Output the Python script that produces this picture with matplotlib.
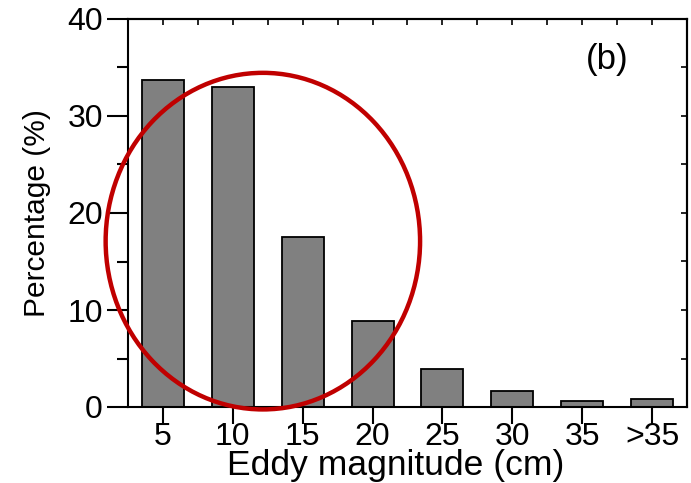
import matplotlib
matplotlib.use("Agg")
import matplotlib.pyplot as plt
from matplotlib.patches import Ellipse
from matplotlib.ticker import MultipleLocator

categories = ["5", "10", "15", "20", "25", "30", "35", ">35"]
values = [33.7, 33.0, 17.5, 8.9, 3.9, 1.65, 0.6, 0.85]

plt.rcParams['font.family'] = ['Liberation Sans', 'DejaVu Sans']

fig = plt.figure(figsize=(6.91, 4.83), dpi=100)
ax = fig.add_axes([128/691, 1-407/483, (687-128)/691, (407-19)/483])

x = list(range(len(categories)))
ax.bar(x, values, width=0.6, color='#808080', edgecolor='black', linewidth=1.3, zorder=2)

ax.set_xlim(-0.5, len(categories)-0.5)
ax.set_ylim(0, 40)
ax.set_xticks(x)
ax.set_xticklabels(categories)
ax.yaxis.set_major_locator(MultipleLocator(10))
ax.yaxis.set_minor_locator(MultipleLocator(5))

ax.tick_params(axis='both', which='major', labelsize=23, width=1.5, color='black')
ax.tick_params(axis='y', which='major', direction='out', length=15, left=True, right=False, pad=3)
ax.tick_params(axis='y', which='minor', direction='out', length=8, width=1.5, left=True, right=False)
ax.tick_params(axis='x', which='major', direction='out', length=12, bottom=True, top=False, pad=-1)

for s in ax.spines.values():
    s.set_linewidth(1.5)

# inward ticks on top and right
sec_top = ax.secondary_xaxis('top')
sec_top.set_xticks([i*0.5 - 0.5 for i in range(1, 2*len(categories))])
sec_top.tick_params(direction='in', length=4, width=1.2, labeltop=False)
sec_top.spines['top'].set_linewidth(1.5)
sec_right = ax.secondary_yaxis('right')
sec_right.set_yticks(list(range(5, 40, 5)))
sec_right.tick_params(direction='in', length=4, width=1.2, labelright=False)
sec_right.spines['right'].set_linewidth(1.5)

ax.set_ylabel("Percentage (%)", fontsize=21.5)
ax.yaxis.label.set_va('baseline')
ax.yaxis.set_label_coords((45-128)/559, 0.5)
ax.set_xlabel("Eddy magnitude (cm)", fontsize=25.5)
ax.xaxis.label.set_va('baseline')
ax.xaxis.set_label_coords(0.478, -(475-407)/388)

ax.text((607-128)/559, (407-59)/388, "(b)", transform=ax.transAxes, fontsize=25,
        ha='center', va='center')

ell = Ellipse((1.43, 17.1), width=4.5, height=34.7, fill=False,
              edgecolor='#c00000', linewidth=3.2, clip_on=False, zorder=5)
ax.add_patch(ell)

fig.savefig("out.png", dpi=100)
